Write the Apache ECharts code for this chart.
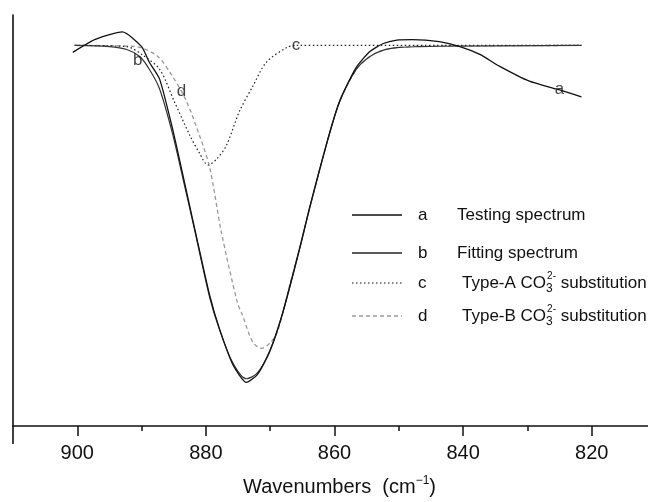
<!DOCTYPE html>
<html><head><meta charset="utf-8">
<script src="https://cdn.jsdelivr.net/npm/echarts@6/dist/echarts.min.js"></script>
<style>html,body{margin:0;padding:0;background:#fff}#c{width:648px;height:502px}</style>
</head><body><div id="c"></div>
<script>
// Curve a: testing spectrum
const aWave = [900.7, 897.3, 893.0, 890.0, 888.8, 887.2, 885.2, 883.6, 881.8, 879.4, 877.9, 875.8, 873.7, 872.0, 870.1, 868.1, 865.4, 863.9, 861.1, 859.2, 856.6, 854.5, 852.5, 850.3, 847.9, 843.7, 840.5, 837.4, 834.3, 829.7, 825.5, 821.6];
const aValue = [90.9, 94.0, 95.9, 92.3, 88.5, 84.4, 72.4, 61.2, 48.4, 31.7, 23.7, 14.9, 10.6, 12.5, 18.0, 27.3, 43.4, 53.0, 69.5, 79.1, 87.3, 91.1, 93.0, 93.9, 94.0, 93.5, 92.3, 90.4, 87.5, 83.9, 82.0, 80.1];
// Curve b: fitting spectrum
const bWave = [900.4, 895.0, 892.3, 890.3, 888.8, 887.2, 885.2, 883.6, 881.8, 879.4, 877.9, 875.8, 873.7, 872.0, 870.1, 868.1, 865.4, 863.9, 861.1, 859.2, 856.6, 854.5, 852.5, 849.9, 846.8, 843.7, 821.6];
const bValue = [92.6, 92.3, 91.6, 89.9, 86.8, 82.0, 71.2, 60.4, 48.0, 31.2, 23.5, 15.3, 11.5, 12.9, 18.2, 27.3, 43.2, 52.8, 69.3, 78.9, 86.8, 89.9, 91.4, 92.1, 92.3, 92.4, 92.6];
// Curve c: Type-A substitution
const cWave = [900.4, 892.3, 889.8, 887.2, 884.9, 882.5, 881.0, 879.7, 878.3, 876.8, 874.8, 872.7, 870.6, 867.4, 866.0, 821.6];
const cValue = [92.6, 92.3, 90.2, 86.8, 78.9, 70.7, 66.4, 63.5, 65.0, 68.3, 76.5, 82.7, 88.5, 92.1, 92.6, 92.6];
// Curve d: Type-B substitution
const dWave = [900.4, 891.4, 887.7, 885.2, 883.0, 881.0, 879.4, 877.6, 875.1, 874.3, 872.7, 871.3, 870.1, 868.9, 867.0, 865.4, 863.9, 861.1, 859.2, 856.6, 854.5, 852.5, 849.9, 846.8, 821.6];
const dValue = [92.6, 92.4, 90.2, 85.1, 78.9, 70.7, 62.8, 47.2, 30.0, 26.9, 20.4, 18.9, 20.1, 22.8, 34.1, 43.4, 52.8, 69.3, 78.9, 86.8, 89.9, 91.4, 92.1, 92.4, 92.6];
// Curve letter labels
const curveLetters = ['a', 'b', 'c', 'd'];
const letterWave = [825.0, 890.6, 866.0, 883.8];
const letterValue = [82.0, 89.0, 92.6, 81.5];
// Axis ticks
const xMajorTicks = [900, 880, 860, 840, 820];
const xMinorTicks = [890, 870, 850, 830];
const xLabels = [900, 880, 860, 840, 820];
const xMin = 811.25, xMax = 910;
// Legend
const legendLetters = ['a', 'b', 'c', 'd'];
const legendTexts = ['Testing spectrum', 'Fitting spectrum', 'Type-A CO{sub|3}{sup|2-} substitution', 'Type-B CO{sub|3}{sup|2-} substitution'];

const zip = (w, v) => w.map((x, i) => [x, v[i]]);
const FONT = '"Liberation Sans", Arial, Helvetica, sans-serif';

const chart = echarts.init(document.getElementById('c'), null, {renderer: 'canvas'});

const legendY = [215, 253, 283, 316];
const legendStyles = [
  {stroke: '#111', lineWidth: 1.3},
  {stroke: '#222', lineWidth: 1.3},
  {stroke: '#111', lineWidth: 1.2, lineDash: [1.5, 2.5]},
  {stroke: '#999', lineWidth: 1.3, lineDash: [4, 3]}
];
const richSub = {
  sub: {fontSize: 12, fontFamily: FONT, fill: '#111', color: '#111', verticalAlign: 'bottom', lineHeight: 14, width: 1},
  sup: {fontSize: 10, fontFamily: FONT, fill: '#111', color: '#111', verticalAlign: 'top', lineHeight: 11}
};
const graphics = [];
legendY.forEach((y, i) => {
  graphics.push({type: 'line', shape: {x1: 352, y1: y, x2: 402, y2: y}, style: legendStyles[i], silent: true});
  graphics.push({type: 'text', x: 418, y: y, style: {text: legendLetters[i], font: '17px ' + FONT, fill: '#111', textVerticalAlign: 'middle'}});
  graphics.push({type: 'text', x: i < 2 ? 457 : 462, y: y - 12, style: {text: legendTexts[i], font: '17px ' + FONT, fontSize: 17, fontFamily: FONT, fill: '#111', lineHeight: 24, rich: richSub}});
});

const baseX = {type: 'value', inverse: true, min: xMin, max: xMax, gridIndex: 0, position: 'bottom',
  splitLine: {show: false}, minorSplitLine: {show: false}};

const option = {
  backgroundColor: '#fff',
  animation: false,
  grid: {left: 13, right: 0, top: 15, bottom: 70, containLabel: false},
  xAxis: [
    Object.assign({}, baseX, {
      name: '{t|Wavenumbers  (cm}{s|−1}{t|)}',
      nameLocation: 'middle', nameGap: 49,
      nameTextStyle: {fontFamily: FONT, fontSize: 20, color: '#111', padding: [0, 0, 0, 18],
        rich: {t: {fontFamily: FONT, fontSize: 20, color: '#111', lineHeight: 24},
               s: {fontFamily: FONT, fontSize: 12, color: '#111', verticalAlign: 'top', lineHeight: 13}}},
      axisLine: {show: true, lineStyle: {color: '#111', width: 1.6}},
      axisTick: {show: true, length: 10, customValues: xMajorTicks, lineStyle: {color: '#111', width: 1.5}},
      axisLabel: {fontFamily: FONT, fontSize: 20, color: '#111', margin: 17, customValues: xLabels}
    }),
    Object.assign({}, baseX, {
      axisLine: {show: false},
      axisTick: {show: true, length: 5, customValues: xMinorTicks, lineStyle: {color: '#111', width: 1.5}},
      axisLabel: {show: false}
    }),
    Object.assign({}, baseX, {
      axisLine: {show: false},
      axisTick: {show: true, length: 18, customValues: [xMax], lineStyle: {color: '#111', width: 1.6}},
      axisLabel: {show: false}
    })
  ],
  yAxis: {
    type: 'value', min: 0, max: 100,
    axisLine: {show: true, lineStyle: {color: '#111', width: 1.6}},
    axisTick: {show: false}, axisLabel: {show: false}, splitLine: {show: false}
  },
  series: [
    {name: 'a', type: 'line', data: zip(aWave, aValue), smooth: 0.2, symbol: 'none',
      lineStyle: {color: '#111', width: 1.3}, z: 5},
    {name: 'b', type: 'line', data: zip(bWave, bValue), smooth: 0.3, symbol: 'none',
      lineStyle: {color: '#333', width: 1.2}, z: 4},
    {name: 'c', type: 'line', data: zip(cWave, cValue), smooth: 0.3, symbol: 'none',
      lineStyle: {color: '#222', width: 1.2, type: [1.5, 2.5]}, z: 3},
    {name: 'd', type: 'line', data: zip(dWave, dValue), smooth: 0.3, symbol: 'none',
      lineStyle: {color: '#999', width: 1.3, type: [4, 3]}, z: 2},
    {name: 'letters', type: 'scatter', symbolSize: 0, z: 6,
      data: letterWave.map((w, i) => ({value: [w, letterValue[i]], name: curveLetters[i]})),
      label: {show: true, position: 'inside', formatter: p => p.name, fontFamily: FONT, fontSize: 17, color: '#111'}}
  ],
  graphic: graphics
};
chart.setOption(option);
</script></body></html>
